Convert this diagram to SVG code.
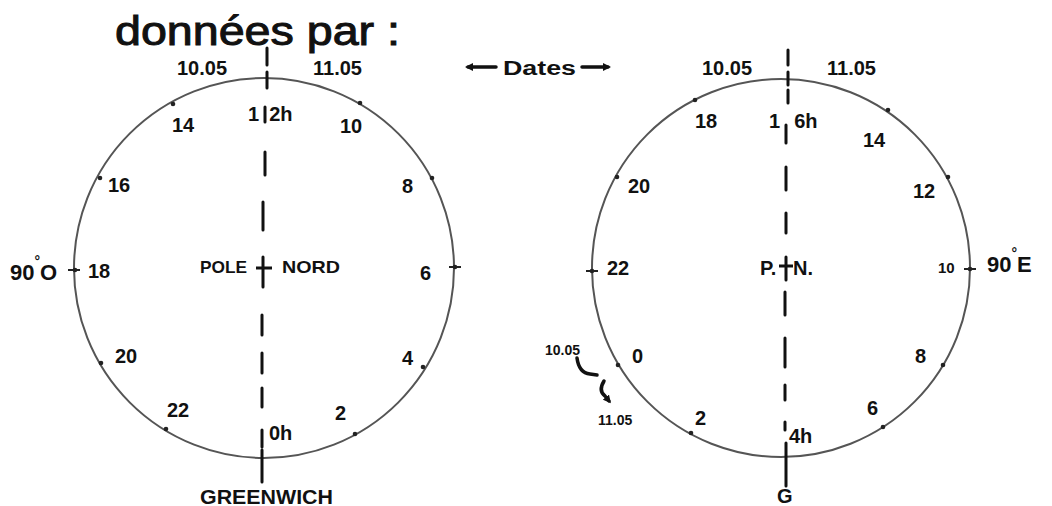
<svg xmlns="http://www.w3.org/2000/svg" width="1052" height="506" viewBox="0 0 1052 506">
<style>
.t{font-family:"Liberation Sans",Arial,sans-serif;font-weight:bold;fill:#111;font-size:20px}
.s{font-size:15px}
.m{font-size:17px}
.ring{fill:none;stroke:#555;stroke-width:2}
.tick{fill:#222}
.dash{stroke:#111;stroke-width:3;stroke-linecap:round;fill:none}
.arr{stroke:#111;stroke-width:3.5;stroke-linecap:round;fill:none}
</style>
<defs>
<marker id="ah" markerWidth="8" markerHeight="8" refX="5" refY="4" orient="auto" markerUnits="userSpaceOnUse">
<path d="M0,0 L8,4 L0,8 Z" fill="#111"/>
</marker>
</defs>
<rect width="1052" height="506" fill="#fff"/>

<g id="title">
<text x="115" y="45" style="font-family:'Liberation Sans',Arial,sans-serif;font-size:40px;fill:#111;stroke:#111;stroke-width:1" textLength="285" lengthAdjust="spacingAndGlyphs">données par :</text>
</g>

<g id="dates-label">
<text class="t" x="503" y="75" textLength="73" lengthAdjust="spacingAndGlyphs">Dates</text>
</g>

<g id="left-clock">
<circle class="ring" cx="264" cy="268" r="190"/>
<g class="tick">
<circle cx="173" cy="104" r="2.3"/><circle cx="360" cy="103" r="2.3"/>
<circle cx="100" cy="178" r="2.3"/><circle cx="432" cy="178" r="2.3"/>
<circle cx="75" cy="270" r="2.3"/><circle cx="455" cy="267" r="2.3"/>
<circle cx="101" cy="363" r="2.3"/><circle cx="423" cy="367" r="2.3"/>
<circle cx="166" cy="429" r="2.3"/><circle cx="355" cy="434" r="2.3"/>
</g>
<line x1="68" y1="270" x2="80" y2="270" stroke="#222" stroke-width="2"/>
<line x1="449" y1="267" x2="461" y2="267" stroke="#222" stroke-width="2"/>
<text class="t" x="177" y="75">10.05</text>
<text class="t" x="313" y="75">11.05</text>
<text class="t" x="248" y="121">1<tspan dx="10">2h</tspan></text>
<text class="t" x="172" y="132">14</text>
<text class="t" x="340" y="133">10</text>
<text class="t" x="108" y="192">16</text>
<text class="t" x="402" y="193">8</text>
<text class="t" x="88" y="278">18</text>
<text class="t" x="420" y="280">6</text>
<text class="t" x="115" y="363">20</text>
<text class="t" x="402" y="365">4</text>
<text class="t" x="167" y="417">22</text>
<text class="t" x="335" y="420">2</text>
<text class="t" x="269" y="440">0h</text>
<text class="t m" x="200" y="273" textLength="47" lengthAdjust="spacingAndGlyphs">POLE</text>
<text class="t m" x="282" y="273" textLength="58" lengthAdjust="spacingAndGlyphs">NORD</text>
<line x1="256" y1="268" x2="272" y2="268" stroke="#111" stroke-width="3"/>
<text class="t" x="200" y="504" textLength="133" lengthAdjust="spacingAndGlyphs">GREENWICH</text>
<text class="t" x="10" y="280" style="font-size:22px">90<tspan dy="-14" style="font-size:14px">°</tspan><tspan dy="14">O</tspan></text>
</g>

<g id="right-clock">
<circle class="ring" cx="781" cy="268" r="189"/>
<g class="tick">
<circle cx="695" cy="100" r="2.3"/><circle cx="888" cy="110" r="2.3"/>
<circle cx="617" cy="177" r="2.3"/><circle cx="948" cy="177" r="2.3"/>
<circle cx="592" cy="271" r="2.3"/><circle cx="970" cy="269" r="2.3"/>
<circle cx="618" cy="365" r="2.3"/><circle cx="943" cy="365" r="2.3"/>
<circle cx="691" cy="433" r="2.3"/><circle cx="883" cy="427" r="2.3"/>
</g>
<line x1="586" y1="271" x2="598" y2="271" stroke="#222" stroke-width="2"/>
<line x1="964" y1="269" x2="976" y2="269" stroke="#222" stroke-width="2"/>
<text class="t" x="702" y="75">10.05</text>
<text class="t" x="827" y="75">11.05</text>
<text class="t" x="695" y="128">18</text>
<text class="t" x="769" y="128">1<tspan dx="14">6h</tspan></text>
<text class="t" x="863" y="147">14</text>
<text class="t" x="628" y="193">20</text>
<text class="t" x="913" y="198">12</text>
<text class="t" x="607" y="275">22</text>
<text class="t" x="760" y="275">P.</text>
<text class="t" x="793" y="275">N.</text>
<line x1="779" y1="266" x2="793" y2="266" stroke="#111" stroke-width="3"/>
<text class="t s" x="938" y="273">10</text>
<text class="t" x="987" y="272" style="font-size:22px">90<tspan dy="-14" style="font-size:14px">°</tspan><tspan dy="14">E</tspan></text>
<text class="t s" x="545" y="355" style="font-size:14px">10.05</text>
<text class="t s" x="598" y="425" style="font-size:14px">11.05</text>
<text class="t" x="632" y="363">0</text>
<text class="t" x="915" y="363">8</text>
<text class="t" x="695" y="425">2</text>
<text class="t" x="867" y="415">6</text>
<text class="t" x="789" y="443">4h</text>
<text class="t" x="777" y="503">G</text>
</g>

<g id="connectors">
<path class="dash" d="M267,48 L267,65 M267,72 L267,88 M265,107 L265,122 M265,152 L265,175 M263,202 L263,230 M263,257 L263,287 M262,315 L262,335 M262,353 L262,373 M262,388 L262,407 M262,430 L262,447 M262,450 L262,482"/>
<path class="dash" d="M788,50 L788,65 M788,72 L788,85 M788,90 L788,103 M786,125 L786,143 M786,167 L786,190 M786,213 L786,233 M786,257 L786,280 M785,292 L785,315 M785,338 L785,367 M785,385 L785,400 M785,422 L785,430 M786,443 L786,486"/>
<path class="arr" d="M496,67 L468,67" marker-end="url(#ah)"/>
<path class="arr" d="M582,67 L608,67" marker-end="url(#ah)"/>
<path class="arr" d="M577,358 Q579,373 590,374 L597,375"/>
<path class="arr" d="M604,381 Q598,391 605,396 L609,401" marker-end="url(#ah)"/>
</g>
</svg>
